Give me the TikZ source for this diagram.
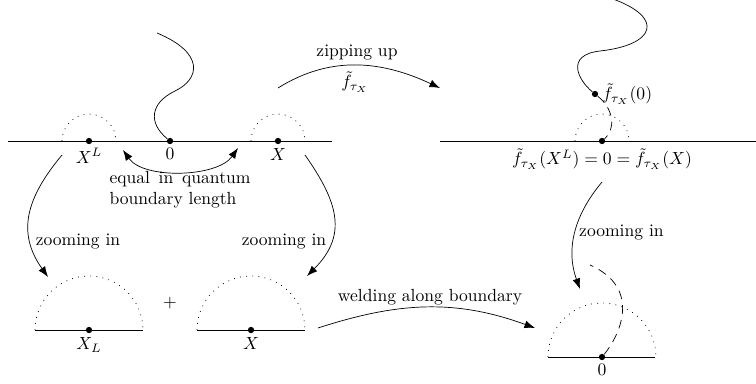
\documentclass[tikz,border=0pt]{standalone}
\usetikzlibrary{arrows.meta, positioning}
\begin{document}
\begin{tikzpicture}[
    x=0.02cm, y=0.02cm,
    pt/.style={circle, fill, inner sep=0pt, minimum size=3.6pt},
    halfdisk/.style={dash pattern=on 0.5pt off 3pt},
    trace/.style={dash pattern=on 5pt off 3.5pt},
    lab/.style={inner sep=1pt},
    >={Latex[length=6pt, width=4.5pt]}
  ]
  \useasboundingbox (0,0) rectangle (756,383);

  % Before zipping
  \draw (8,242) -- (332,242);
  \node[pt] (xl) at (89,242) {};
  \node[pt] (o) at (170,242) {};
  \node[pt] (x) at (278,242) {};
  \draw[halfdisk] (62,242) arc[start angle=180, end angle=0, radius=27];
  \draw[halfdisk] (251,242) arc[start angle=180, end angle=0, radius=27];
  \node[lab, below=1pt of xl] (xllab) {$X^L$};
  \node[lab, below=1pt of o] (olab) {$0$};
  \node[lab, below=1pt of x] (xlab) {$X$};
  \draw (o) .. controls (148,260) and (150,280) .. (175,292)
            .. controls (200,304) and (205,330) .. (157,350);

  \coordinate (eqa) at (123,233);
  \coordinate (eqb) at (238,235);
  \draw[<->] (eqa) to[out=-55, in=-125, looseness=0.8] (eqb);
  \node[text width=2.82cm, align=justify, inner sep=0pt] (eq) at (180,193)
    {equal in quantum boundary length};

  % Zooming in on the left
  \coordinate (zla) at (62,228);
  \coordinate (zlb) at (48,106);
  \draw[->] (zla) .. controls (27,186) and (16,151) .. (zlb);
  \node (zllab) at (78,141) {zooming in};
  \coordinate (zra) at (305,228);
  \coordinate (zrb) at (307,107);
  \draw[->] (zra) .. controls (338,181) and (348,148) .. (zrb);
  \node (zrlab) at (284,141) {zooming in};

  % After zooming
  \draw (35,53) -- (143,53);
  \node[pt] (xs) at (89,53) {};
  \draw[halfdisk] (35,53) arc[start angle=180, end angle=0, radius=54];
  \node[lab, below=1pt of xs] (xslab) {$X_L$};
  \node (plus) at (170,80) {$+$};
  \draw (197,53) -- (305,53);
  \node[pt] (xb) at (251,53) {};
  \draw[halfdisk] (197,53) arc[start angle=180, end angle=0, radius=54];
  \node[lab, below=1pt of xb] (xblab) {$X$};

  % Welding
  \coordinate (wa) at (318,55);
  \coordinate (wb) at (535,55);
  \draw[->] (wa) to[out=18, in=160] (wb);
  \node (wlab) at (430,86) {welding along boundary};

  % Zipping up
  \coordinate (za) at (278,295);
  \coordinate (zb) at (440,295);
  \draw[->] (za) to[out=32, in=155] (zb);
  \node (zlab) at (357,330) {zipping up};
  \node (flab) at (355,301) {$\tilde f_{\tau_X}$};

  % After zipping
  \draw (440,242) -- (756,242);
  \node[pt] (z) at (602,242) {};
  \draw[halfdisk] (575,242) arc[start angle=180, end angle=0, radius=27];
  \node[lab, below=1pt of z] (zzlab)
    {$\tilde f_{\tau_X}(X^L) = 0 = \tilde f_{\tau_X}(X)$};
  \node[pt] (f0) at (595,289) {};
  \node[lab, right=1pt of f0] (f0lab) {$\tilde f_{\tau_X}(0)$};
  \draw[trace] (f0) .. controls (615,273) and (615,253) .. (z);
  \draw (f0) .. controls (578,303) and (565,328) .. (600,332)
             .. controls (655,338) and (665,365) .. (613,384);

  % Zooming in on the right
  \coordinate (zza) at (602,201);
  \coordinate (zzb) at (580,94);
  \draw[->] (zza) to[out=-130, in=110] (zzb);
  \node[anchor=west] (zzinlab) at (573,150) {zooming in};

  \draw (548,26) -- (655,26);
  \node[pt] (w) at (602,26) {};
  \draw[halfdisk] (548,26) arc[start angle=180, end angle=0, radius=54];
  \node[lab, below=1pt of w] (wlab0) {$0$};
  \coordinate (wt) at (590,118);
  \draw[trace] (w) .. controls (620,48) and (642,95) .. (wt);
\end{tikzpicture}
\end{document}
